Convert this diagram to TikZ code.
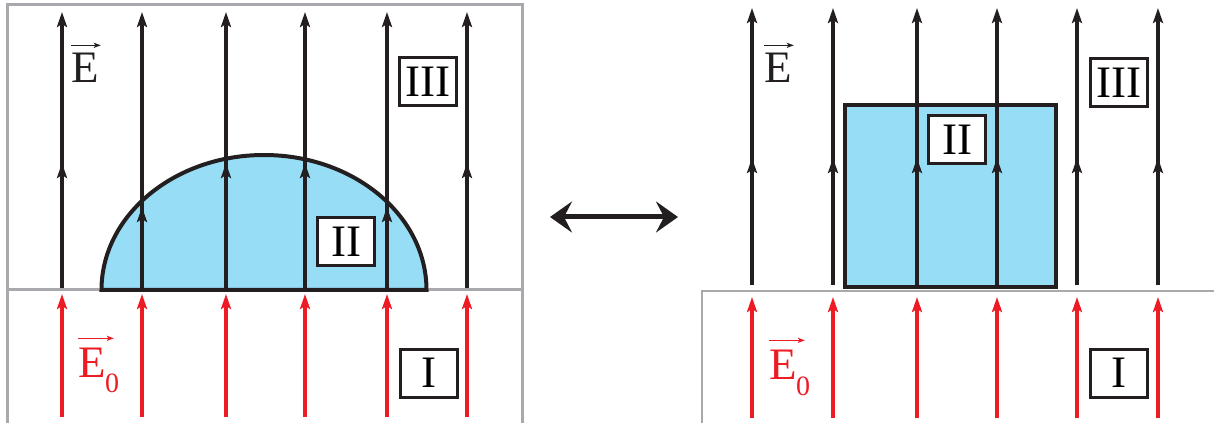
\documentclass[tikz,border=0pt]{standalone}
\usepackage{fontspec}
\setmainfont{Liberation Serif}
\usetikzlibrary{arrows.meta}
\definecolor{fieldred}{HTML}{ED1C24}
\definecolor{fieldblack}{HTML}{231F20}
\definecolor{framegray}{HTML}{A7A9AC}
\definecolor{dielblue}{HTML}{97DDF6}

\begin{document}
\begin{tikzpicture}[x=1pt, y=1pt,
  every node/.style={inner sep=0pt, font=\fontsize{45}{50}\selectfont},
  frame/.style={draw=framegray, line width=3pt},
  body/.style={draw=fieldblack, fill=dielblue, line width=4pt},
  fieldline/.style={draw=fieldblack, line width=3.5pt, -{Stealth[length=15pt, width=10pt, inset=3pt]}},
  incident/.style={draw=fieldred, line width=3.3pt, -{Stealth[length=15pt, width=10pt, inset=3pt]}},
  exchange/.style={draw=fieldblack, line width=5pt, {Stealth[length=22pt, width=31pt, inset=8pt]}-{Stealth[length=22pt, width=31pt, inset=8pt]}},
  vecmark/.style={line width=1.5pt, -{Stealth[length=7pt, width=5pt, inset=1.5pt]}},
  subscr/.style={font=\fontsize{28}{30}\selectfont, text=fieldred},
  region/.style={draw=fieldblack, line width=3pt, fill=white, minimum width=57pt, minimum height=48pt}]
  \useasboundingbox (0,0) rectangle (1214,423);

  % frames
  \draw[frame] (7,0) -- (7,418) -- (522,418) -- (522,0);
  \draw[frame] (7,133) -- (522,133);
  \draw[frame, line width=2.5pt] (702,0) -- (702,132) -- (1214,132);

  % dielectric bodies
  \draw[body] (101.5,133) arc[start angle=180, end angle=0, x radius=162.5, y radius=135] -- cycle;
  \draw[body] (845,136) rectangle (1056,318);

  % left field
  \foreach \x/\m in {62/260, 142/216, 226/260, 305/260, 387/216, 467/260} {
    \coordinate (lb\x) at (\x,135);
    \coordinate (lm\x) at (\x,\m);
    \coordinate (lt\x) at (\x,411);
    \draw[fieldline] (lb\x) -- (lt\x);
    \draw[fieldline] (lb\x) -- (lm\x);
    \coordinate (lr\x) at (\x,6);
    \coordinate (lh\x) at (\x,129);
    \draw[incident] (lr\x) -- (lh\x);
  }

  % right field
  \foreach \x in {752, 833, 917, 997, 1077, 1158} {
    \coordinate (rb\x) at (\x,138);
    \coordinate (rm\x) at (\x,265);
    \coordinate (rt\x) at (\x,415);
    \draw[fieldline] (rb\x) -- (rt\x);
    \draw[fieldline] (rb\x) -- (rm\x);
    \coordinate (rr\x) at (\x,5);
    \coordinate (rh\x) at (\x,126);
    \draw[incident] (rr\x) -- (rh\x);
  }

  \coordinate (exL) at (550,206);
  \coordinate (exR) at (678,206);
  \draw[exchange] (exL) -- (exR);

  \node[region] (IIIleft) at (428,341) {III};
  \node[region] (IIleft) at (346,181) {II};
  \node[region] (Ileft) at (429,50) {I};
  \node[region] (IIright) at (957,283) {II};
  \node[region] (IIIright) at (1119,340) {III};
  \node[region] (Iright) at (1119,50) {I};

  % field labels
  \node[anchor=base west, text=fieldblack] (Eleft) at (71,340) {E};
  \draw[vecmark, fieldblack] ([yshift=8pt]Eleft.north west) -- ([shift={(2pt,8pt)}]Eleft.north east);
  \node[anchor=base west, text=fieldred] (Ezleft) at (78,46) {E};
  \node[subscr, anchor=base west] (zleft) at (105,31) {0};
  \draw[vecmark, fieldred] ([yshift=9pt]Ezleft.north west) -- ([shift={(8pt,9pt)}]Ezleft.north east);
  \node[anchor=base west, text=fieldblack] (Eright) at (764,340) {E};
  \draw[vecmark, fieldblack] ([yshift=8pt]Eright.north west) -- ([shift={(2pt,8pt)}]Eright.north east);
  \node[anchor=base west, text=fieldred] (Ezright) at (769,44) {E};
  \node[subscr, anchor=base west] (zright) at (796,28) {0};
  \draw[vecmark, fieldred] ([yshift=9pt]Ezright.north west) -- ([shift={(8pt,9pt)}]Ezright.north east);
\end{tikzpicture}
\end{document}
